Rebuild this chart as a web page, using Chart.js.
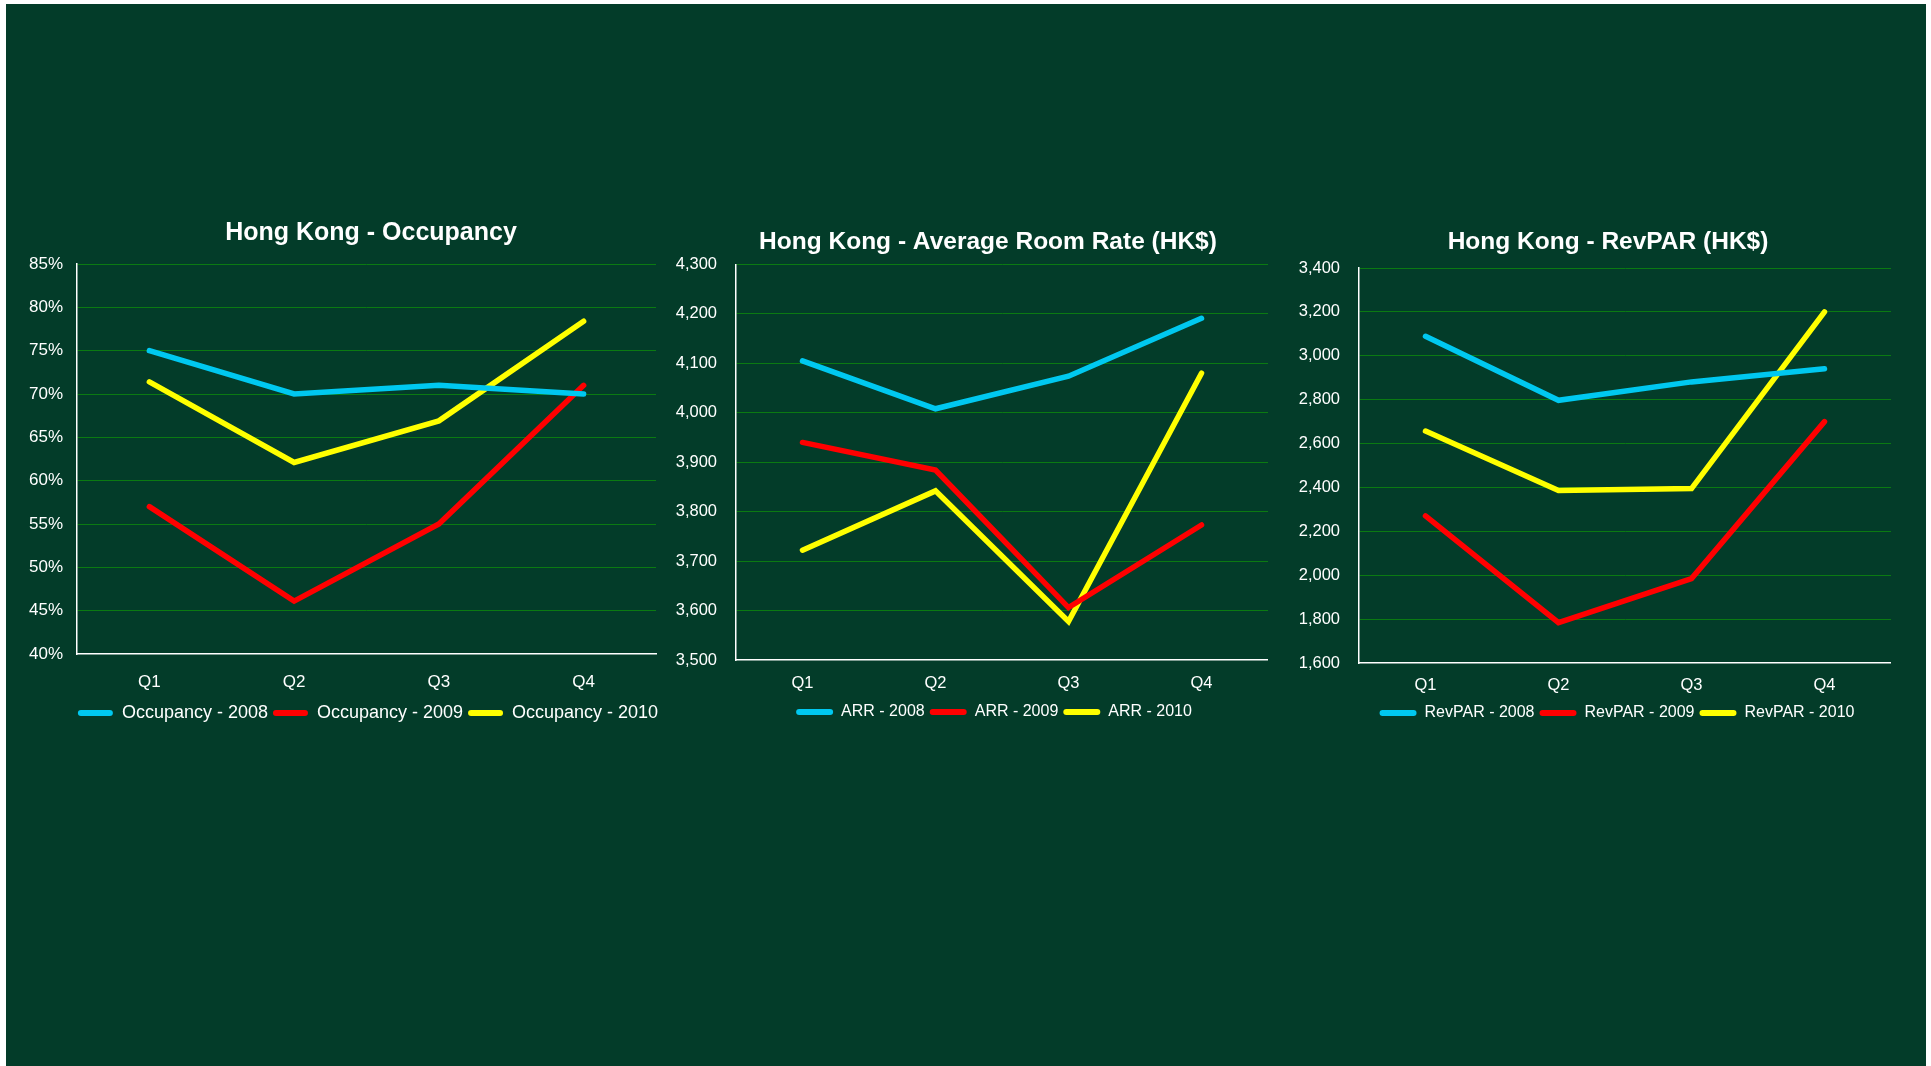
<!DOCTYPE html>
<html><head><meta charset="utf-8">
<script src="https://cdn.jsdelivr.net/npm/chart.js@4/dist/chart.umd.min.js"></script>
<style>
html,body{margin:0;padding:0;background:#ffffff;width:1931px;height:1066px;overflow:hidden;}
#bg{position:absolute;left:6px;top:4px;width:1920px;height:1062px;background:#033c29;}
.box{position:absolute;}
</style></head><body>
<div id="bg"></div>
<div class="box" style="left:10px;top:190px;width:676px;height:542px"><canvas id="c1"></canvas></div>
<div class="box" style="left:670px;top:190px;width:598px;height:540px"><canvas id="c2"></canvas></div>
<div class="box" style="left:1290px;top:190px;width:601px;height:541px"><canvas id="c3"></canvas></div>
<script>
// ---- data ----
const quarters = ['Q1', 'Q2', 'Q3', 'Q4'];
const occ2008 = [75.0, 70.0, 71.0, 70.0];
const occ2009 = [57.0, 46.1, 55.0, 71.0];
const occ2010 = [71.4, 62.1, 66.9, 78.4];
const arr2008 = [4105, 4008, 4074, 4191];
const arr2009 = [3940, 3884, 3606, 3773];
const arr2010 = [3722, 3842, 3578, 4080];
const rev2008 = [3089, 2797, 2881, 2941];
const rev2009 = [2270, 1784, 1985, 2700];
const rev2010 = [2657, 2386, 2395, 3200];
const occTicks = [40, 85, 5];
const arrTicks = [3500, 4300, 100];
const revTicks = [1600, 3400, 200];
const titles = ['Hong Kong - Occupancy', 'Hong Kong - Average Room Rate (HK$)', 'Hong Kong - RevPAR (HK$)'];
const occNames = ['Occupancy - 2008', 'Occupancy - 2009', 'Occupancy - 2010'];
const arrNames = ['ARR - 2008', 'ARR - 2009', 'ARR - 2010'];
const revNames = ['RevPAR - 2008', 'RevPAR - 2009', 'RevPAR - 2010'];

const COLORS = ['#00c8f0', '#ff0000', '#ffff00'];
const GRID = '#0b7a12';
const FONT = "'Liberation Sans', Arial, sans-serif";

const shiftPlugin = {
  id: 'shiftBoxes',
  afterLayout(chart, args, opts) {
    const t = chart.titleBlock;
    if (t && opts.titleCenter != null) {
      const dx = opts.titleCenter - (t.left + t.right) / 2;
      t.left += dx; t.right += dx;
    }
    const l = chart.legend;
    if (l && opts.legendCenter != null) {
      const dx = opts.legendCenter - (l.left + l.right) / 2;
      l.left += dx; l.right += dx;
    }
  }
};

function makeChart(id, cfg) {
  const datasets = cfg.series.map((s, i) => ({
    label: cfg.names[i],
    data: s,
    borderColor: COLORS[i],
    backgroundColor: COLORS[i],
    borderWidth: 5.5,
    borderCapStyle: 'round',
    borderJoinStyle: 'miter',
    pointRadius: 0,
    pointHoverRadius: 0,
    tension: 0,
    fill: false
  }));
  return new Chart(document.getElementById(id), {
    type: 'line',
    data: { labels: quarters, datasets },
    plugins: [shiftPlugin],
    options: {
      responsive: true,
      maintainAspectRatio: false,
      animation: false,
      layout: { padding: { top: 0, left: 0, bottom: 0, right: cfg.padR } },
      plugins: {
        tooltip: { enabled: false },
        shiftBoxes: { titleCenter: cfg.titleCenter, legendCenter: cfg.legendCenter },
        title: {
          display: true,
          text: cfg.title,
          color: '#ffffff',
          font: { family: FONT, size: cfg.ttf, weight: 'bold' },
          padding: { top: cfg.tpt, bottom: cfg.tpb }
        },
        legend: {
          display: true,
          position: 'bottom',
          labels: {
            color: '#ffffff',
            font: { family: FONT, size: cfg.lf },
            boxWidth: cfg.bw,
            boxHeight: 6,
            padding: 5,
            useBorderRadius: true,
            borderRadius: 3,
            generateLabels(chart) {
              const items = Chart.defaults.plugins.legend.labels.generateLabels(chart);
              items.forEach(it => { it.fillStyle = it.strokeStyle; it.lineWidth = 0; it.borderRadius = 3; });
              return items;
            }
          }
        }
      },
      scales: {
        x: {
          offset: true,
          grid: { display: false, drawTicks: false },
          border: { display: true, color: '#ffffff', width: 1.5 },
          ticks: { color: '#ffffff', font: { family: FONT, size: cfg.tf }, padding: cfg.xpad, maxRotation: 0 },
          afterFit(scale) { scale.height = cfg.xh; }
        },
        y: {
          min: cfg.ticks[0],
          max: cfg.ticks[1],
          grid: {
            color: (c) => (c.index === 0 ? 'rgba(0,0,0,0)' : GRID),
            lineWidth: 1,
            drawTicks: false
          },
          border: { display: true, color: '#ffffff', width: 1.5 },
          ticks: {
            stepSize: cfg.ticks[2],
            color: '#ffffff',
            font: { family: FONT, size: cfg.tf },
            padding: cfg.ypad,
            callback: cfg.fmt
          },
          afterFit(scale) { scale.width = cfg.yw; }
        }
      }
    }
  });
}

const pct = (v) => v + '%';
const num = (v) => v.toLocaleString('en-US');

makeChart('c1', {
  series: [occ2008, occ2009, occ2010], names: occNames, title: titles[0], ticks: occTicks, fmt: pct,
  titleCenter: 361, legendCenter: 358, tpt: 28, tpb: 16, xpad: 18, xh: 45, yw: 67, ypad: 14, padR: 30,
  ttf: 25, lf: 18, tf: 17, bw: 35
});
makeChart('c2', {
  series: [arr2008, arr2009, arr2010], names: arrNames, title: titles[1], ticks: arrTicks, fmt: num,
  titleCenter: 318, legendCenter: 324, tpt: 38, tpb: 7, xpad: 14, xh: 39, yw: 66, ypad: 19, padR: 0,
  ttf: 24.5, lf: 16, tf: 16.5, bw: 37
});
makeChart('c3', {
  series: [rev2008, rev2009, rev2010], names: revNames, title: titles[2], ticks: revTicks, fmt: num,
  titleCenter: 318, legendCenter: 327, tpt: 38, tpb: 10.6, xpad: 13, xh: 37, yw: 69, ypad: 19, padR: 0,
  ttf: 24.5, lf: 16, tf: 16.5, bw: 37
});
</script>
</body></html>
